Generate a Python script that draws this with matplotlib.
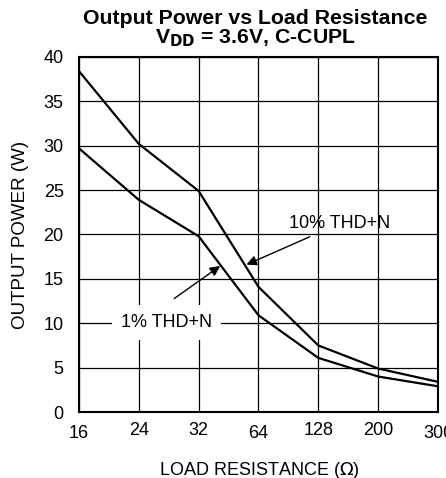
import matplotlib.pyplot as plt
import numpy as np

plt.rcParams['font.family'] = ['Liberation Sans', 'DejaVu Sans']

loads = ['16', '24', '32', '64', '128', '200', '300']
thd10 = [38.4, 30.2, 24.9, 14.1, 7.5, 4.9, 3.4]
thd1 = [29.7, 23.9, 19.8, 10.9, 6.1, 4.0, 2.9]
yticks = [0, 5, 10, 15, 20, 25, 30, 35, 40]

fig = plt.figure(figsize=(4.46, 4.78), dpi=100)
ax = fig.add_axes([0.177, 0.138, 0.805, 0.743])
x = np.arange(len(loads))

ax.plot(x, thd10, color='black', lw=1.6, zorder=3)
ax.plot(x, thd1, color='black', lw=1.6, zorder=3)

ax.set_xlim(0, len(loads) - 1)
ax.set_ylim(0, 40)
ax.set_yticks(yticks)
ax.set_xticks(x)
ax.set_xticklabels([])
ax.grid(True, color='black', lw=0.9)
ax.tick_params(length=0, labelsize=13, pad=11)
for s in ax.spines.values():
    s.set_linewidth(1.5)

# staggered tick labels
for i, lab in enumerate(loads):
    off = -0.036 if lab in ('16', '64', '300') else -0.027
    ax.text(i, off, lab, transform=ax.get_xaxis_transform(), ha='center', va='top', fontsize=13)

fig.text(0.045, 0.508, 'OUTPUT POWER (W)', rotation=90, ha='center', va='center', fontsize=13.5)
fig.text(0.581, 0.016, 'LOAD RESISTANCE ($\\Omega$)', ha='center', va='center', fontsize=13)
fig.text(0.573, 0.961, 'Output Power vs Load Resistance', ha='center', va='center',
         fontsize=15.3, fontweight='bold')
fig.text(0.573, 0.921, 'V$_{\\mathbf{DD}}$ = 3.6V, C-CUPL', ha='center', va='center',
         fontsize=15.3, fontweight='bold')

ax.annotate('10% THD+N', xy=(2.8, 16.6), xytext=(4.35, 21.2), ha='center', va='center', fontsize=13,
            arrowprops=dict(arrowstyle='-|>', color='black', lw=1, mutation_scale=15, shrinkA=3, shrinkB=0))
ax.annotate('1% THD+N', xy=(2.36, 16.45), xytext=(1.47, 10.1), ha='center', va='center', fontsize=13,
            bbox=dict(facecolor='white', edgecolor='none', boxstyle='square,pad=0.5'),
            arrowprops=dict(arrowstyle='-|>', color='black', lw=1, mutation_scale=15,
                            shrinkA=0, shrinkB=0, relpos=(0.58, 1.9)), zorder=4)

fig.savefig('out.png', dpi=100)
